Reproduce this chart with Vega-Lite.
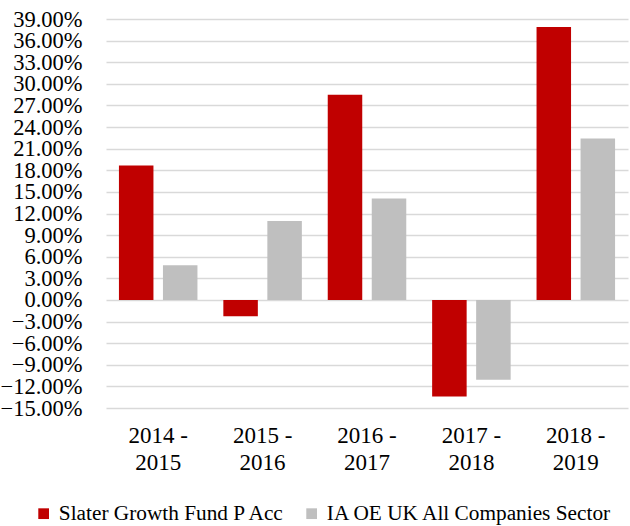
{
  "$schema": "https://vega.github.io/schema/vega-lite/v6.json",
  "autosize": {"type": "none"},
  "width": 522,
  "height": 389,
  "padding": {"left": 106, "top": 19, "right": 2, "bottom": 118},
  "config": {
    "font": "Liberation Serif",
    "view": {"stroke": null}
  },
  "data": {
    "values": [
      {"period": "2014 - 2015", "series": "Slater Growth Fund P Acc", "value": 0.1865},
      {"period": "2014 - 2015", "series": "IA OE UK All Companies Sector", "value": 0.048},
      {"period": "2015 - 2016", "series": "Slater Growth Fund P Acc", "value": -0.0227},
      {"period": "2015 - 2016", "series": "IA OE UK All Companies Sector", "value": 0.1097},
      {"period": "2016 - 2017", "series": "Slater Growth Fund P Acc", "value": 0.2847},
      {"period": "2016 - 2017", "series": "IA OE UK All Companies Sector", "value": 0.1407},
      {"period": "2017 - 2018", "series": "Slater Growth Fund P Acc", "value": -0.134},
      {"period": "2017 - 2018", "series": "IA OE UK All Companies Sector", "value": -0.1107},
      {"period": "2018 - 2019", "series": "Slater Growth Fund P Acc", "value": 0.379},
      {"period": "2018 - 2019", "series": "IA OE UK All Companies Sector", "value": 0.224}
    ]
  },
  "mark": {"type": "bar"},
  "encoding": {
    "x": {
      "field": "period",
      "type": "nominal",
      "sort": null,
      "scale": {"paddingInner": 0, "paddingOuter": 0},
      "axis": {
        "title": null,
        "domain": false,
        "ticks": false,
        "labelAngle": 0,
        "labelFontSize": 23,
        "labelColor": "#000000",
        "labelPadding": 16,
        "labelLineHeight": 27,
        "labelExpr": "[slice(datum.label, 0, 6), slice(datum.label, 7)]"
      }
    },
    "xOffset": {
      "field": "series",
      "type": "nominal",
      "sort": ["Slater Growth Fund P Acc", "IA OE UK All Companies Sector"],
      "scale": {"paddingInner": 0.216, "paddingOuter": 0.294}
    },
    "y": {
      "field": "value",
      "type": "quantitative",
      "scale": {"domain": [-0.15, 0.39], "nice": false, "zero": false},
      "axis": {
        "title": null,
        "format": ".2%",
        "values": [-0.15, -0.12, -0.09, -0.06, -0.03, 0, 0.03, 0.06, 0.09, 0.12, 0.15, 0.18, 0.21, 0.24, 0.27, 0.30, 0.33, 0.36, 0.39],
        "domain": false,
        "ticks": false,
        "labelFontSize": 22.5,
        "labelColor": "#000000",
        "labelPadding": 24,
        "labelOverlap": false,
        "gridColor": "#d9d9d9",
        "gridWidth": 1.5
      }
    },
    "color": {
      "field": "series",
      "type": "nominal",
      "sort": ["Slater Growth Fund P Acc", "IA OE UK All Companies Sector"],
      "scale": {"range": ["#C00000", "#BFBFBF"]},
      "legend": {
        "title": null,
        "orient": "none",
        "direction": "horizontal",
        "legendX": -73,
        "legendY": 484,
        "symbolType": "square",
        "symbolSize": 115,
        "symbolStrokeWidth": 0,
        "labelFontSize": 21.3,
        "labelLimit": 0,
        "labelColor": "#000000",
        "columnPadding": 16,
        "labelOffset": 4.5
      }
    }
  }
}
